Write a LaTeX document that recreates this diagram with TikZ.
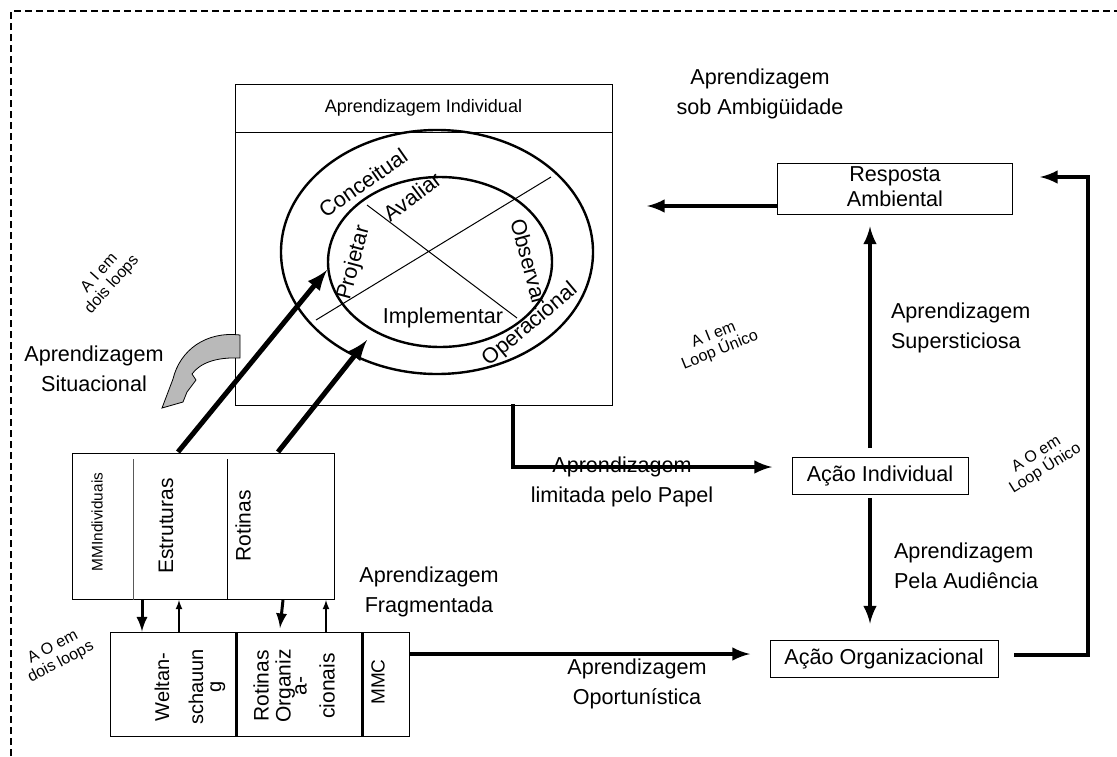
\documentclass[tikz,border=0pt]{standalone}
\usepackage{fontspec}
\setmainfont{Liberation Sans}
\usetikzlibrary{positioning}
\usetikzlibrary{shapes}
\usetikzlibrary{arrows}

\begin{document}
\begin{tikzpicture}[x=0.5pt,y=-0.5pt,align=center,
scatola/.style={draw,line width=0.5pt,inner sep=0pt},
anello/.style={draw,ellipse,line width=1.2pt,inner sep=0pt},
etichetta/.style={font=\fontsize{10.8}{15}\selectfont},
fase/.style={font=\fontsize{10.8}{12}\selectfont},
colonna/.style={font=\fontsize{10.5}{11}\selectfont,rotate=90},
piccolo/.style={font=\fontsize{8}{8.5}\selectfont,inner sep=1pt},
spessa/.style={line width=2.5pt,-latex},
media/.style={line width=2pt,-latex},
corta/.style={line width=1.5pt,-latex},
sottile/.style={line width=0.6pt,-latex},
bordo/.style={line width=0.7pt,dash pattern=on 3.5pt off 2pt}
]
\useasboundingbox (0,0) rectangle (1117,756);
\coordinate (bA) at (11,756); \coordinate (bB) at (11,11); \coordinate (bC) at (1117,11);
\draw[bordo] (bA) -- (bB) -- (bC);
%-- apprendimento individuale
\node[scatola,minimum width=188.5pt,minimum height=160.5pt](ai) at (423.5,244.5){};
\coordinate (hsx) at (235,132);
\draw[line width=0.5pt] (hsx) -- (hsx -| ai.east);
\node[font=\fontsize{9}{11}\selectfont](aitit) at (423.5,108){Aprendizagem Individual};
\node[anello,minimum width=156pt,minimum height=122pt](est) at (437,252){};
\node[anello,minimum width=112pt,minimum height=85pt](int) at (440,262){};
\coordinate (c1) at (316,320); \coordinate (c2) at (551,177);
\coordinate (c3) at (367,205); \coordinate (c4) at (517,318);
\draw[line width=0.5pt] (c1) -- (c2) (c3) -- (c4);
\node[fase,rotate=35](conc) at (363,183){Conceitual};
\node[fase,rotate=37](aval) at (412,197){Avaliar};
\node[fase,rotate=75](proj) at (354,263){Projetar};
\node[fase,rotate=-75](obs) at (529,262){Observar};
\node[fase](impl) at (443,318){Implementar};
\node[fase,rotate=40](oper) at (530,325){Operacional};
%-- modelli mentali individuali
\node[scatola,minimum width=131pt,minimum height=73pt](mmi) at (203,526){};
\coordinate (d1) at (133,459); \coordinate (d2) at (227,459);
\draw[line width=0.5pt,gray!70!black] (d1) -- (d1 |- mmi.south);
\draw[line width=0.5pt] (d2) -- (d2 |- mmi.south);
\node[font=\fontsize{7.7}{9}\selectfont,rotate=90](mmind) at (97,522){MMIndividuais};
\node[colonna](estr) at (166,526){Estruturas};
\node[colonna](rot) at (243,526){Rotinas};
%-- modelli mentali condivisi
\node[scatola,minimum width=149.5pt,minimum height=52pt](mmo) at (259.5,684){};
\coordinate (d3) at (236,632); \coordinate (d4) at (362,632);
\draw[line width=1.5pt] (d3) -- (d3 |- mmo.south) (d4) -- (d4 |- mmo.south);
\node[colonna,font=\fontsize{10}{13}\selectfont](welt) at (190,687){Weltan-\\[4pt]schauun\\[-4pt]g};
\node[colonna](rotorg) at (294,686){Rotinas\\Organiz\\[-3pt]a-\\[3pt]cionais};
\node[colonna,font=\fontsize{9.5}{11}\selectfont](mmc) at (378,682){MMC};
%--
\coordinate (g1) at (142,600); \coordinate (g2) at (179,600);
\coordinate (g3) at (283,600); \coordinate (g4) at (326,600);
\coordinate (g3b) at (280,628);
\draw[corta] (g1) -- (g1 |- mmo.north);
\draw[sottile] (g2 |- mmo.north) -- (g2);
\draw[corta] (g3) -- (g3b);
\draw[sottile] (g4 |- mmo.north) -- (g4);
%-- frecce verso il ciclo
\coordinate (sE) at (178,452); \coordinate (fE) at (327,270);
\coordinate (sR) at (278,452); \coordinate (fR) at (367,340);
\draw[spessa] (sE) -- (fE);
\draw[spessa] (sR) -- (fR);
%-- freccia curva
\coordinate (cv) at (240,335);
\filldraw[fill=gray!55,draw=black,line width=0.4pt] (cv) .. controls (206,331) and (180,350) .. (173,379) -- (162,408) -- (183,402) -- (187,392) -- (196,380) -- (192,374) .. controls (200,363) and (216,357) .. (240,358) -- cycle;
%-- azioni
\node[scatola,minimum width=117.5pt,minimum height=25.5pt](resp) at (894.5,188.5){};
\node[font=\fontsize{10.8}{12.5}\selectfont](resptxt) at (895,187){Resposta\\Ambiental};
\node[scatola,minimum width=88pt,minimum height=18.5pt,font=\fontsize{10.8}{12}\selectfont](acind) at (880,475.5){Ação Individual};
\node[scatola,minimum width=114pt,minimum height=18.5pt,font=\fontsize{10.8}{12}\selectfont](acorg) at (884,658.5){Ação Organizacional};
%--
\coordinate (fA) at (647,206);
\draw[media] (resp.south west |- fA) -- (fA);
\coordinate (xv) at (870,448);
\draw[media,shorten >=6pt] (xv) -- (xv |- resp.south);
\coordinate (xw) at (870,498);
\draw[media,shorten >=8pt] (xw) -- (xw |- acorg.north);
\coordinate (ang) at (1088,177); \coordinate (fB) at (1040,177);
\coordinate (sB) at (1014,655);
\draw[media] (sB) -| (ang) -- (fB);
\coordinate (pap) at (513,404); \coordinate (fC) at (772,467);
\draw[media] (pap) |- (fC);
\coordinate (fD) at (750,654);
\draw[media] (mmo.east |- fD) -- (fD);
%-- etichette
\node[etichetta](sit) at (94,369){Aprendizagem\\Situacional};
\node[etichetta](amb) at (760,94){Aprendizagem\\sob Ambigüidade};
\node[etichetta,anchor=west,align=left](sup) at (884,328){Aprendizagem\\Supersticiosa};
\node[etichetta,anchor=west,align=left](aud) at (887,566){Aprendizagem\\Pela Audiência};
\node[etichetta](pap2) at (622,482){Aprendizagem\\limitada pelo Papel};
\node[etichetta](frag) at (429,592){Aprendizagem\\Fragmentada};
\node[etichetta](opo) at (637,684){Aprendizagem\\Oportunística};
%--
\node[piccolo,rotate=48](aid) at (106,279){A I em\\dois loops};
\node[piccolo,rotate=22](aiu) at (717,343){A I em\\Loop Único};
\node[piccolo,rotate=32](aou) at (1041,462){A O em\\Loop Único};
\node[piccolo,rotate=28](aod) at (57,655){A O em\\dois loops};
\end{tikzpicture}
\end{document}
